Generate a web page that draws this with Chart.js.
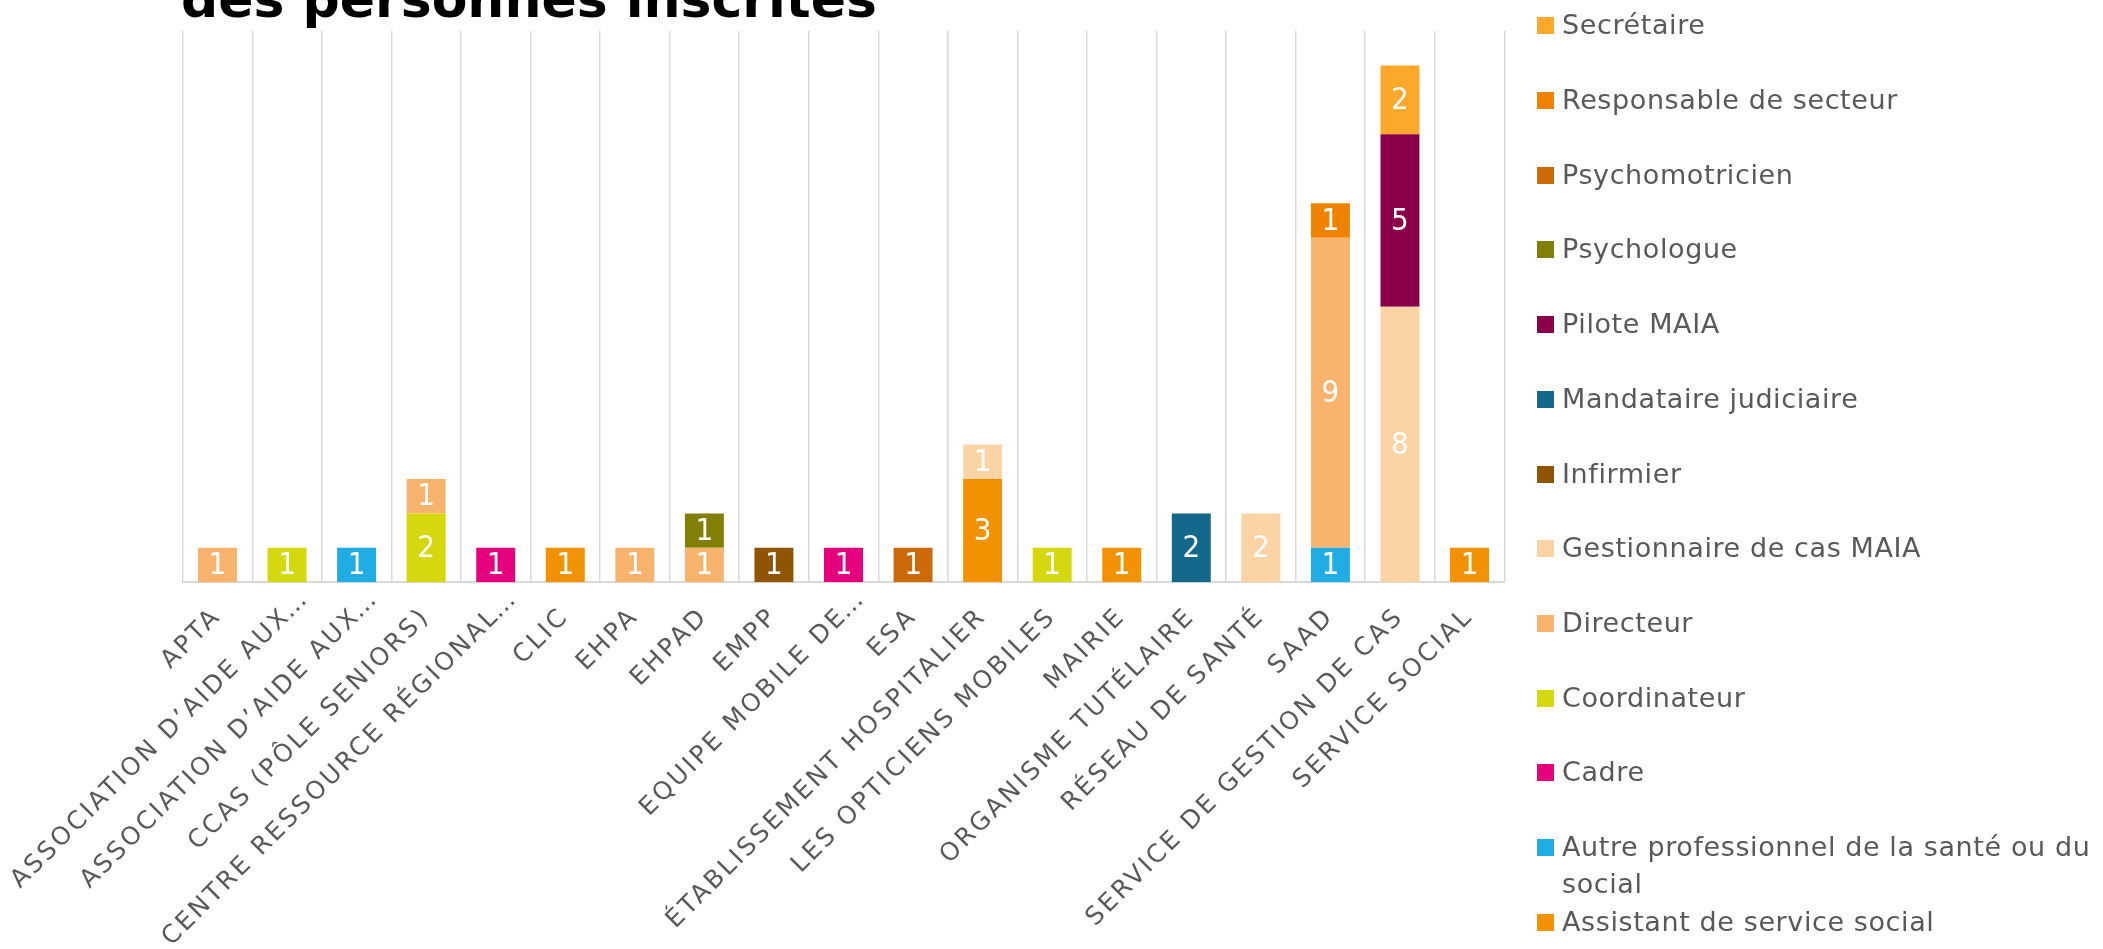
<!DOCTYPE html>
<html lang="fr">
<head>
<meta charset="utf-8">
<title>Fonction des personnes inscrites</title>
<script src="https://cdn.jsdelivr.net/npm/chart.js@4.4.1/dist/chart.umd.min.js"></script>
<style>
  html, body { margin: 0; padding: 0; background: #fff; overflow: hidden; }
  #wrap { position: relative; width: 2103px; height: 949px; overflow: hidden; }
  #chart-box { position: absolute; left: 0; top: 0; width: 2103px; height: 949px; }
  #title {
    position: absolute; left: 181px; top: -27px;
    font: bold 52px "DejaVu Sans", sans-serif; line-height: 52px;
    color: #000; white-space: nowrap;
  }
  .item { position: absolute; left: 1537px; width: 17px; height: 17px; }
  .item .box { position: absolute; left: 0; top: 0; width: 17px; height: 17px; }
  .item .txt {
    position: absolute; left: 25px; top: -11px;
    font: 27px "DejaVu Sans", sans-serif; line-height: 37px; letter-spacing: 0.6px;
    color: #595959; white-space: nowrap;
  }
  .item .txt.wrap { white-space: normal; width: 580px; }
</style>
</head>
<body>
<div id="wrap">
  <div id="chart-box"><canvas id="profChart"></canvas></div>
  <div id="title">des personnes inscrites</div>
  <div id="legend"></div>
</div>
<script>
// Categories (structures), in axis order
const categories = [
    'APTA',
    'ASSOCIATION D’AIDE AUX…',
    'ASSOCIATION D’AIDE AUX…',
    'CCAS (PÔLE SENIORS)',
    'CENTRE RESSOURCE RÉGIONAL…',
    'CLIC',
    'EHPA',
    'EHPAD',
    'EMPP',
    'EQUIPE MOBILE DE…',
    'ESA',
    'ÉTABLISSEMENT HOSPITALIER',
    'LES OPTICIENS MOBILES',
    'MAIRIE',
    'ORGANISME TUTÉLAIRE',
    'RÉSEAU DE SANTÉ',
    'SAAD',
    'SERVICE DE GESTION DE CAS',
    'SERVICE SOCIAL',
];

// One array per job, stacked from the bottom up
const assistantServiceSocial = [0, 0, 0, 0, 0, 1, 0, 0, 0, 0, 0, 3, 0, 1, 0, 0, 0, 0, 1];
const autreProfessionnel     = [0, 0, 1, 0, 0, 0, 0, 0, 0, 0, 0, 0, 0, 0, 0, 0, 1, 0, 0];
const cadre                  = [0, 0, 0, 0, 1, 0, 0, 0, 0, 1, 0, 0, 0, 0, 0, 0, 0, 0, 0];
const coordinateur           = [0, 1, 0, 2, 0, 0, 0, 0, 0, 0, 0, 0, 1, 0, 0, 0, 0, 0, 0];
const directeur              = [1, 0, 0, 1, 0, 0, 1, 1, 0, 0, 0, 0, 0, 0, 0, 0, 9, 0, 0];
const gestionnaireCasMaia    = [0, 0, 0, 0, 0, 0, 0, 0, 0, 0, 0, 1, 0, 0, 0, 2, 0, 8, 0];
const infirmier              = [0, 0, 0, 0, 0, 0, 0, 0, 1, 0, 0, 0, 0, 0, 0, 0, 0, 0, 0];
const mandataireJudiciaire   = [0, 0, 0, 0, 0, 0, 0, 0, 0, 0, 0, 0, 0, 0, 2, 0, 0, 0, 0];
const piloteMaia             = [0, 0, 0, 0, 0, 0, 0, 0, 0, 0, 0, 0, 0, 0, 0, 0, 0, 5, 0];
const psychologue            = [0, 0, 0, 0, 0, 0, 0, 1, 0, 0, 0, 0, 0, 0, 0, 0, 0, 0, 0];
const psychomotricien        = [0, 0, 0, 0, 0, 0, 0, 0, 0, 0, 1, 0, 0, 0, 0, 0, 0, 0, 0];
const responsableSecteur     = [0, 0, 0, 0, 0, 0, 0, 0, 0, 0, 0, 0, 0, 0, 0, 0, 1, 0, 0];
const secretaire             = [0, 0, 0, 0, 0, 0, 0, 0, 0, 0, 0, 0, 0, 0, 0, 0, 0, 2, 0];

const seriesNames = [
    'Assistant de service social',
    'Autre professionnel de la santé ou du social',
    'Cadre',
    'Coordinateur',
    'Directeur',
    'Gestionnaire de cas MAIA',
    'Infirmier',
    'Mandataire judiciaire',
    'Pilote MAIA',
    'Psychologue',
    'Psychomotricien',
    'Responsable de secteur',
    'Secrétaire',
];
const seriesValues = [
    assistantServiceSocial, autreProfessionnel, cadre, coordinateur, directeur,
    gestionnaireCasMaia, infirmier, mandataireJudiciaire, piloteMaia,
    psychologue, psychomotricien, responsableSecteur, secretaire,
];
const seriesColors = [
    '#F29200', '#1FADE3', '#E5007E', '#D4D80D', '#F8B46D',
    '#FCD3A4', '#8F5503', '#14698A', '#8A0049',
    '#7F8005', '#CC6A0A', '#F08200', '#FBA82B',
];

const TICK_SIZE = 25;
const TICK_FAMILY = '"DejaVu Sans", sans-serif';
const TICK_SPACING = '2.7px';
const TICK_PADDING = 20;

// Value written in white in the middle of every segment
const segmentLabels = {
    id: 'segmentLabels',
    afterDatasetsDraw(chart) {
        const ctx = chart.ctx;
        ctx.save();
        ctx.letterSpacing = '0px';
        ctx.font = '31px "DejaVu Sans Condensed", "DejaVu Sans", sans-serif';
        ctx.fillStyle = '#ffffff';
        ctx.textAlign = 'center';
        ctx.textBaseline = 'middle';
        chart.data.datasets.forEach((ds, i) => {
            chart.getDatasetMeta(i).data.forEach((bar, j) => {
                const v = ds.data[j];
                if (!v) return;
                ctx.fillText(String(v), bar.x, (bar.y + bar.base) / 2 + 1);
            });
        });
        ctx.restore();
    }
};

// Spaced-out capitals on the category axis
const tickSpacing = {
    id: 'tickSpacing',
    beforeLayout(chart) { chart.ctx.letterSpacing = TICK_SPACING; },
    beforeDraw(chart) { chart.ctx.letterSpacing = TICK_SPACING; }
};

// Truncated names: the "…" hangs past the tick, as in the original
const ellipsisTail = {
    id: 'ellipsisTail',
    afterDraw(chart) {
        const scale = chart.scales.x;
        const ctx = chart.ctx;
        const lineHeight = TICK_SIZE * 1.2;
        const rotation = -scale.labelRotation * Math.PI / 180;
        ctx.save();
        ctx.letterSpacing = '0px';
        ctx.font = TICK_SIZE + 'px ' + TICK_FAMILY;
        ctx.fillStyle = '#595959';
        ctx.textAlign = 'left';
        ctx.textBaseline = 'middle';
        categories.forEach((cat, i) => {
            if (!cat.endsWith('…')) return;
            const x = scale.getPixelForTick(i) + (lineHeight / 2) * Math.sin(rotation);
            const y = scale.top + TICK_PADDING;
            ctx.save();
            ctx.translate(x, y);
            ctx.rotate(rotation);
            ctx.fillText('…', -2, lineHeight / 2);
            ctx.restore();
        });
        ctx.restore();
    }
};

document.addEventListener('DOMContentLoaded', function () {
    const chartElement = document.getElementById('profChart');

    const datasets = seriesNames.map((name, i) => ({
        label: name,
        data: seriesValues[i],
        backgroundColor: seriesColors[i],
        borderWidth: 0,
        barPercentage: 0.56,
        categoryPercentage: 1.0,
    }));

    const chart = new Chart(chartElement, {
        type: 'bar',
        data: {
            labels: categories,
            datasets: datasets,
        },
        options: {
            responsive: true,
            maintainAspectRatio: false,
            animation: false,
            layout: {
                padding: { top: 31, left: 182.7, right: 598.7, bottom: 0 },
            },
            scales: {
                x: {
                    stacked: true,
                    grid: {
                        offset: true,
                        color: '#d9d9d9',
                        lineWidth: 1.5,
                        drawTicks: false,
                    },
                    border: { color: '#d9d9d9', width: 2 },
                    ticks: {
                        autoSkip: false,
                        minRotation: 45,
                        maxRotation: 45,
                        padding: TICK_PADDING,
                        color: '#595959',
                        font: { family: TICK_FAMILY, size: TICK_SIZE },
                        callback: function (value) {
                            return categories[value].replace('…', '');
                        },
                    },
                    afterFit: function (scale) {
                        scale.height = 949 - 582.3;
                    },
                },
                y: {
                    stacked: true,
                    display: false,
                    min: 0,
                    max: 16,
                },
            },
            plugins: {
                legend: { display: false },
                tooltip: { enabled: false },
            },
        },
        plugins: [tickSpacing, segmentLabels, ellipsisTail],
    });

    // Legend at the right, last series on top (as in the original)
    const legend = document.getElementById('legend');
    chart.data.datasets.slice().reverse().forEach((ds, i) => {
        const item = document.createElement('div');
        item.className = 'item';
        item.style.top = (17.3 + i * 74.7) + 'px';
        const box = document.createElement('span');
        box.className = 'box';
        box.style.background = ds.backgroundColor;
        const txt = document.createElement('span');
        txt.className = 'txt' + (ds.label.length > 30 ? ' wrap' : '');
        txt.textContent = ds.label;
        item.appendChild(box);
        item.appendChild(txt);
        legend.appendChild(item);
    });
});
</script>
</body>
</html>
